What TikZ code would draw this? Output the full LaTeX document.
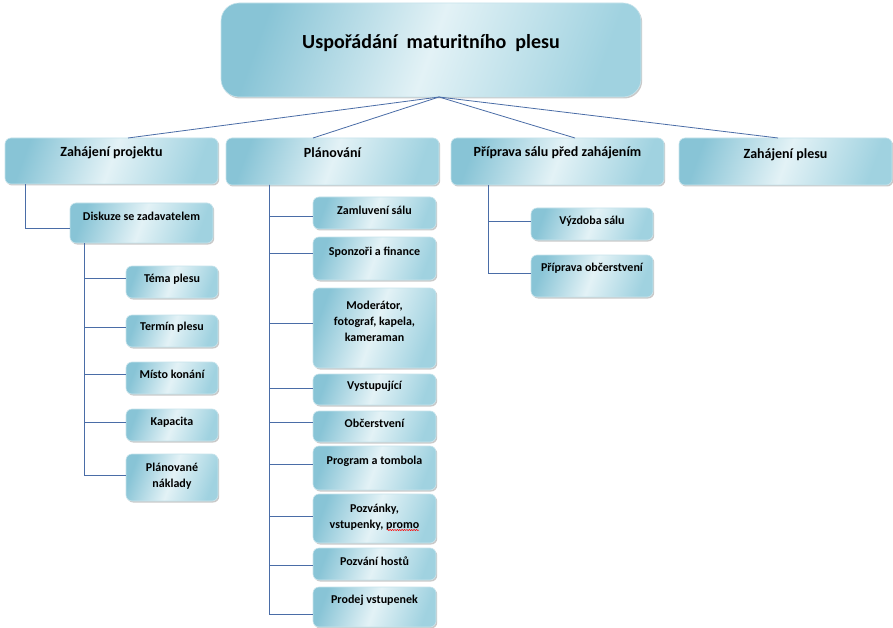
\documentclass[tikz,border=0pt]{standalone}
\usepackage{fontspec}
\setmainfont{Carlito}
\usetikzlibrary{shadows,calc,decorations.pathmorphing}
\definecolor{bxdark}{HTML}{88C4D6}
\definecolor{bxlight}{HTML}{E3F2F6}
\definecolor{bxright}{HTML}{A0D2E0}
\definecolor{bxedge}{HTML}{C8E4EC}
\definecolor{lnc}{HTML}{4A6DA7}
\tikzset{
  box/.style={rounded corners=6pt, draw=bxedge, line width=0.6pt,
    left color=bxdark, right color=bxright, middle color=bxlight, shading angle=70,
    drop shadow={shadow xshift=1.2pt, shadow yshift=-1.5pt, opacity=0.35, fill=black!60},
    inner sep=0pt, outer sep=0pt},
  lbl/.style={font=\bfseries\fontsize{12}{16}\selectfont, align=center, inner sep=0pt, text=black},
  lblbig/.style={font=\bfseries\fontsize{14}{16}\selectfont, align=center, inner sep=0pt, text=black},
  conn/.style={draw=lnc, line width=0.8pt},
  squiggle/.style={draw=red, line width=0.5pt, decorate, decoration={snake, amplitude=0.6pt, segment length=2.4pt}}
}
\newcommand\mkbox[8]{%
  \node[box, anchor=north west, minimum width={(#4-#2)*1pt}, minimum height={(#5-#3)*1pt}] (#1) at (#2,#3) {};
  \node[#8] (#1-t) at ([yshift=-#6pt]#1.north) {#7};}
\begin{document}
\begin{tikzpicture}[x=1pt,y=-1pt]
\useasboundingbox[fill=white] (0,0) rectangle (893,628);
% root
\node[box, rounded corners=18pt, anchor=north west, minimum width=420pt, minimum height=94pt] (root) at (221,3) {};
\node[font=\bfseries\fontsize{20}{24}\selectfont, inner sep=0pt, text=black] (root-t) at ([yshift=-40pt]root.north) {Uspořádání\ \ maturitního\ \ plesu};
% level 1
\mkbox{zp}{5}{138}{218}{184}{15}{Zahájení projektu}{lblbig}
\mkbox{pl}{226}{138}{439}{185}{15}{Plánování}{lblbig}
\mkbox{pr}{451}{138}{664}{185}{15}{Příprava sálu před zahájením}{lblbig}
\mkbox{zs}{679}{138}{892}{185}{17}{Zahájení plesu}{lblbig}
% Zahajeni projektu
\mkbox{dis}{70}{203}{213}{243}{13}{Diskuze se zadavatelem}{lbl}
\mkbox{tema}{126}{266}{218}{298}{13}{Téma plesu}{lbl}
\mkbox{term}{126}{315}{218}{347}{12}{Termín plesu}{lbl}
\mkbox{misto}{126}{362}{218}{394}{12}{Místo konání}{lbl}
\mkbox{kap}{126}{409}{218}{441}{13}{Kapacita}{lbl}
\mkbox{nakl}{126}{454}{218}{501}{22}{Plánované\\náklady}{lbl}
% Planovani
\mkbox{zaml}{313}{197}{436}{229}{13}{Zamluvení sálu}{lbl}
\mkbox{spon}{313}{237}{436}{280}{15}{Sponzoři a finance}{lbl}
\mkbox{mod}{313}{288}{436}{368}{33}{Moderátor,\\fotograf, kapela,\\kameraman}{lbl}
\mkbox{vyst}{313}{374}{436}{405}{12}{Vystupující}{lbl}
\mkbox{obc}{313}{411}{436}{442}{12}{Občerstvení}{lbl}
\mkbox{prog}{313}{446}{436}{490}{15}{Program a tombola}{lbl}
\mkbox{pozv}{313}{494}{436}{543}{23}{Pozvánky,\\vstupenky, promo}{lbl}
\mkbox{host}{313}{548}{436}{580}{13}{Pozvání hostů}{lbl}
\mkbox{prod}{313}{587}{436}{627}{13}{Prodej vstupenek}{lbl}
% Priprava salu
\mkbox{vyz}{531}{208}{653}{240}{13}{Výzdoba sálu}{lbl}
\mkbox{ppo}{531}{255}{653}{297}{13}{Příprava občerstvení}{lbl}
% spell-check squiggle under "promo"
\coordinate (sqa) at (387,530);
\coordinate (sqb) at (419,530);
\draw[squiggle] (sqa) -- (sqb);
% connectors from root
\draw[conn] ([xshift=8pt]root.south) -- ([xshift=16.5pt]zp.north);
\draw[conn] ([xshift=8pt]root.south) -- ([xshift=-19.5pt]pl.north);
\draw[conn] ([xshift=8pt]root.south) -- ([xshift=17.5pt]pr.north);
\draw[conn] ([xshift=8pt]root.south) -- ([xshift=-7.5pt]zs.north);
% zp
\draw[conn] ([xshift=20pt]zp.south west) |- (dis.west |- 0,228);
\foreach \n/\y in {tema/278,term/327,misto/374,kap/422,nakl/475}
  \draw[conn] ([xshift=14pt]dis.south west) |- (\n.west |- 0,\y);
% pl
\foreach \n/\y in {zaml/216,spon/253,mod/323,vyst/388,obc/422,prog/464,pozv/516,host/565,prod/614}
  \draw[conn] ([xshift=43pt]pl.south west) |- (\n.west |- 0,\y);
% pr
\foreach \n/\y in {vyz/221,ppo/273}
  \draw[conn] ([xshift=37pt]pr.south west) |- (\n.west |- 0,\y);
\end{tikzpicture}
\end{document}
